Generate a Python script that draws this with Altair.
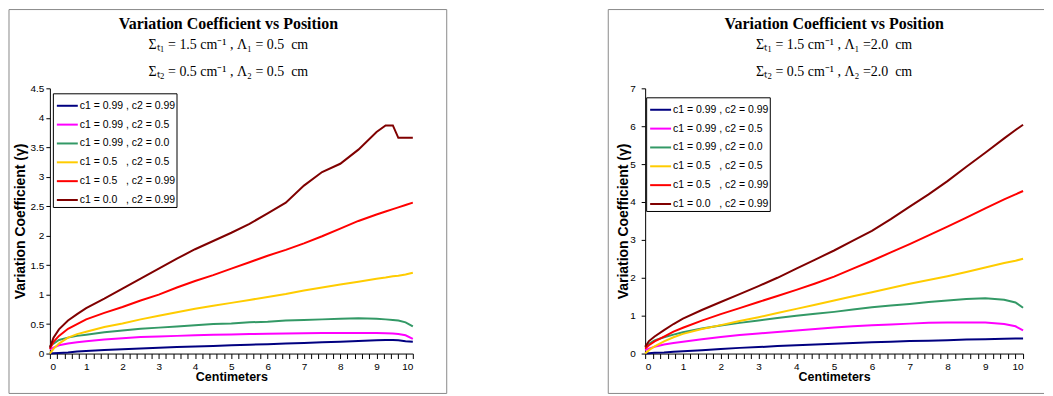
import altair as alt
import pandas as pd

SERIES = [
    "c1 = 0.99 , c2 = 0.99",
    "c1 = 0.99 , c2 = 0.5",
    "c1 = 0.99 , c2 = 0.0",
    "c1 = 0.5\u00a0\u00a0\u00a0, c2 = 0.5",
    "c1 = 0.5\u00a0\u00a0\u00a0, c2 = 0.99",
    "c1 = 0.0\u00a0\u00a0\u00a0, c2 = 0.99",
]
COLORS = ["#000080", "#FF00FF", "#339966", "#FFCC00", "#FF0000", "#800000"]

TITLE = "Variation Coefficient vs Position"
LEFT_SUB = ["\u03a3\u209c\u2081 = 1.5 cm\u207b\u00b9 , \u039b\u2081 = 0.5\u00a0 cm",
            "\u03a3\u209c\u2082 = 0.5 cm\u207b\u00b9 , \u039b\u2082 = 0.5\u00a0 cm"]
RIGHT_SUB = ["\u03a3\u209c\u2081 = 1.5 cm\u207b\u00b9 , \u039b\u2081 =2.0\u00a0 cm",
             "\u03a3\u209c\u2082 = 0.5 cm\u207b\u00b9 , \u039b\u2082 =2.0\u00a0 cm"]
X_TITLE = "Centimeters"
Y_TITLE = "Variation Coefficient (\u03b3)"

# ---- left panel (Lambda = 0.5 cm) ----
X_LEFT = [0, 0.1, 0.25, 0.5, 0.75, 1, 1.5, 2, 2.5, 3, 3.5, 4, 4.5, 5, 5.5, 6, 6.5,
          7, 7.5, 8, 8.5, 9, 9.25, 9.45, 9.6, 9.8, 10]
L_99_99 = [0.0, 0.005, 0.01, 0.02, 0.035, 0.045, 0.06, 0.075, 0.085, 0.10, 0.11, 0.12, 0.13,
           0.14, 0.15, 0.16, 0.17, 0.18, 0.19, 0.20, 0.215, 0.225, 0.23, 0.23, 0.225, 0.21, 0.20]
L_99_50 = [0.07, 0.10, 0.14, 0.17, 0.19, 0.21, 0.24, 0.26, 0.28, 0.29, 0.30, 0.31, 0.32,
           0.325, 0.33, 0.335, 0.34, 0.345, 0.35, 0.35, 0.35, 0.35, 0.345, 0.34, 0.33, 0.31, 0.25]
L_99_00 = [0.12, 0.17, 0.23, 0.27, 0.30, 0.32, 0.36, 0.39, 0.42, 0.44, 0.46, 0.48, 0.50,
           0.51, 0.53, 0.54, 0.56, 0.57, 0.58, 0.59, 0.60, 0.59, 0.58, 0.57, 0.56, 0.53, 0.46]
L_50_50 = [0.0, 0.08, 0.17, 0.27, 0.33, 0.37, 0.45, 0.51, 0.58, 0.64, 0.70, 0.76, 0.81,
           0.86, 0.91, 0.96, 1.01, 1.07, 1.12, 1.17, 1.22, 1.27, 1.29, 1.31, 1.32, 1.34, 1.37]
L_50_99 = [0.08, 0.20, 0.30, 0.42, 0.50, 0.58, 0.69, 0.79, 0.90, 1.00, 1.12, 1.23, 1.33,
           1.44, 1.55, 1.66, 1.76, 1.87, 1.99, 2.12, 2.25, 2.36, 2.41, 2.45, 2.48, 2.52, 2.56]
L_00_99 = [0.10, 0.27, 0.41, 0.56, 0.67, 0.77, 0.93, 1.10, 1.27, 1.44, 1.61, 1.77, 1.91,
           2.05, 2.20, 2.38, 2.56, 2.85, 3.08, 3.22, 3.46, 3.76, 3.87, 3.87, 3.66, 3.66, 3.66]

# ---- right panel (Lambda = 2.0 cm) ----
X_RIGHT = [0, 0.1, 0.25, 0.5, 0.75, 1, 1.5, 2, 2.5, 3, 3.5, 4, 4.5, 5, 5.5, 6, 6.5,
           7, 7.5, 8, 8.5, 9, 9.5, 9.8, 10]
R_99_99 = [0.0, 0.01, 0.02, 0.03, 0.05, 0.06, 0.09, 0.12, 0.15, 0.17, 0.20, 0.22, 0.24,
           0.26, 0.28, 0.30, 0.31, 0.33, 0.34, 0.35, 0.37, 0.38, 0.39, 0.40, 0.40]
R_99_50 = [0.09, 0.13, 0.18, 0.24, 0.28, 0.31, 0.38, 0.44, 0.49, 0.53, 0.57, 0.61, 0.65,
           0.69, 0.72, 0.75, 0.77, 0.79, 0.81, 0.82, 0.82, 0.82, 0.78, 0.72, 0.61]
R_99_00 = [0.18, 0.26, 0.35, 0.43, 0.50, 0.56, 0.66, 0.74, 0.81, 0.87, 0.94, 1.00, 1.05,
           1.10, 1.16, 1.22, 1.27, 1.31, 1.36, 1.40, 1.44, 1.46, 1.42, 1.35, 1.21]
R_50_50 = [0.0, 0.09, 0.19, 0.32, 0.43, 0.52, 0.65, 0.75, 0.86, 0.96, 1.07, 1.18, 1.29,
           1.40, 1.51, 1.62, 1.73, 1.84, 1.94, 2.04, 2.15, 2.27, 2.39, 2.45, 2.50]
R_50_99 = [0.13, 0.22, 0.32, 0.45, 0.58, 0.68, 0.87, 1.04, 1.20, 1.36, 1.52, 1.68, 1.85,
           2.03, 2.24, 2.45, 2.67, 2.89, 3.12, 3.35, 3.59, 3.83, 4.07, 4.20, 4.29]
R_00_99 = [0.18, 0.33, 0.45, 0.62, 0.78, 0.92, 1.15, 1.36, 1.57, 1.78, 2.00, 2.24, 2.48,
           2.72, 2.98, 3.24, 3.55, 3.88, 4.20, 4.55, 4.93, 5.30, 5.68, 5.90, 6.04]

X_TICKS = [round(i * 0.2, 1) for i in range(51)]
Y_TICKS_LEFT = [0, 0.5, 1, 1.5, 2, 2.5, 3, 3.5, 4, 4.5]
Y_TICKS_RIGHT = [0, 1, 2, 3, 4, 5, 6, 7]


def panel(xs, series_vals, ymax, yticks, subs, width, height, frame, title_cx,
          legend_xy, ytitle_x, ylabel_pad, right_edge_open=False):
    rows = []
    for name, ys in zip(SERIES, series_vals):
        for x, y in zip(xs, ys):
            rows.append({"x": x, "y": y, "s": name})
    df = pd.DataFrame(rows)
    one = pd.DataFrame({"k": [0]})
    fx1, fx2, fy1, fy2 = frame
    layers = []
    if right_edge_open:
        for (a, b, c, d) in [(fx1, fx1, fy1, fy2), (fx1, fx2, fy1, fy1), (fx1, fx2, fy2, fy2)]:
            layers.append(alt.Chart(one).mark_rule(color="#8a8a8a", strokeWidth=1).encode(
                x=alt.value(a), x2=alt.value(b), y=alt.value(c), y2=alt.value(d)))
    else:
        layers.append(alt.Chart(one).mark_rect(fillOpacity=0, stroke="#8a8a8a", strokeWidth=1).encode(
            x=alt.value(fx1), x2=alt.value(fx2), y=alt.value(fy1), y2=alt.value(fy2)))
    layers.append(alt.Chart(one).mark_text(font="Liberation Serif", fontWeight="bold", fontSize=16,
                                           align="center", baseline="middle", color="black").encode(
        x=alt.value(title_cx), y=alt.value(-65), text=alt.value(TITLE)))
    for i, s in enumerate(subs):
        layers.append(alt.Chart(one).mark_text(font="Liberation Serif", fontSize=14,
                                               align="center", baseline="middle", color="black").encode(
            x=alt.value(title_cx), y=alt.value(-43 + 27 * i), text=alt.value(s)))
    lines = alt.Chart(df).mark_line(strokeWidth=2).encode(
        x=alt.X("x:Q", scale=alt.Scale(domain=[0, 10], nice=False),
                axis=alt.Axis(values=X_TICKS,
                              labelExpr="datum.value % 1 == 0 ? format(datum.value, 'd') : ''",
                              title=X_TITLE, titleX=width / 2, titleY=23, titleBaseline="middle",
                              tickSize=5, labelPadding=3)),
        y=alt.Y("y:Q", scale=alt.Scale(domain=[0, ymax], nice=False),
                axis=alt.Axis(values=yticks, format="~g", title=Y_TITLE, titleX=ytitle_x,
                              titleY=height / 2, titleBaseline="middle", titleAlign="center",
                              tickSize=4, labelPadding=ylabel_pad)),
        color=alt.Color("s:N", scale=alt.Scale(domain=SERIES, range=COLORS),
                        legend=alt.Legend(title=None, orient="none", legendX=legend_xy[0],
                                          legendY=legend_xy[1], symbolType="stroke",
                                          symbolSize=441, symbolStrokeWidth=2, labelOffset=1,
                                          symbolOffset=2,
                                          labelFont="Liberation Sans", labelFontSize=10.5,
                                          labelColor="black", strokeColor="black",
                                          fillColor="white", padding=1, rowPadding=1.9,
                                          cornerRadius=0)),
    )
    layers.append(lines)
    return alt.layer(*layers).properties(width=width, height=height)


left = panel(X_LEFT, [L_99_99, L_99_50, L_99_00, L_50_50, L_50_99, L_00_99], 4.5, Y_TICKS_LEFT,
             LEFT_SUB, 364, 266, (-41, 398, -79, 306), 179, (3, 5), -29, 2)
right = panel(X_RIGHT, [R_99_99, R_99_50, R_99_00, R_50_50, R_50_99, R_00_99], 7, Y_TICKS_RIGHT,
              RIGHT_SUB, 379, 266, (-37, 400, -79, 306), 189.5, (1, 9), -22, 6,
              right_edge_open=True)

chart = alt.hconcat(left, right, spacing=160).resolve_scale(
    x="independent", y="independent", color="independent"
).resolve_legend(color="independent").properties(padding=0).configure_view(
    stroke=None
).configure_axis(
    grid=False, domainColor="black", tickColor="black", labelColor="black",
    labelFont="Liberation Sans", labelFontSize=10, titleFont="Liberation Sans",
    titleFontSize=13, titleFontWeight="bold", titleColor="black"
).configure_axisX(titleFontSize=12.5).configure_axisY(titleFontSize=14)

chart.save("out.html", embed_options={"renderer": "svg", "actions": False})
